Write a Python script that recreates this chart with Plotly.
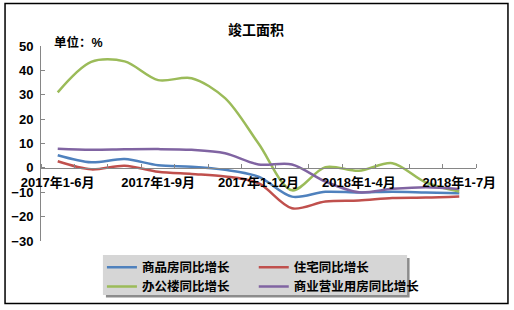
import plotly.graph_objects as go

categories = ["2017年1-6月", "2017年1-7月", "2017年1-8月", "2017年1-9月", "2017年1-10月",
              "2017年1-11月", "2017年1-12月", "2018年1-2月", "2018年1-3月", "2018年1-4月",
              "2018年1-5月", "2018年1-6月", "2018年1-7月"]
tick_labels = ["2017年1-6月", "2017年1-9月", "2017年1-12月", "2018年1-4月", "2018年1-7月"]

commodity = [5.2, 2.3, 3.6, 1.1, 0.5, -0.8, -3.6, -11.8, -9.8, -10.1, -9.8, -10.1, -10.4]
residential = [2.7, -0.6, 0.9, -1.6, -2.5, -3.5, -6.3, -16.6, -13.8, -13.4, -12.4, -12.2, -11.7]
office = [31.0, 43.5, 43.7, 36.0, 36.8, 28.6, 10.0, -9.2, 0.3, -1.2, 1.9, -6.0, -9.7]
business = [7.8, 7.4, 7.6, 7.7, 7.4, 6.0, 1.4, 1.4, -5.6, -10.0, -8.6, -7.9, -8.7]

series_names = ["商品房同比增长", "住宅同比增长", "办公楼同比增长", "商业营业用房同比增长"]
series_values = [commodity, residential, office, business]
colors = ["#4F81BD", "#C0504D", "#9BBB59", "#8064A2"]
legend_cols = ["legend", "legend2", "legend", "legend2"]

x_idx = list(range(len(categories)))
tick_idx = [categories.index(t) for t in tick_labels]

FONT = "Liberation Sans, Arial, Noto Sans CJK SC, sans-serif"
W, H = 514, 310
L, R, T, B = 41, 37.5, 46, 69
pw, ph = W - L - R, H - T - B

def px(x):
    return (x - L) / pw

def py(y):
    return (H - B - y) / ph

fig = go.Figure()
for name, vals, c, lg in zip(series_names, series_values, colors, legend_cols):
    fig.add_trace(go.Scatter(
        x=x_idx, y=vals, name=name, mode="lines", legend=lg,
        line=dict(color=c, width=2.5, shape="spline", smoothing=0.9),
        hoverinfo="skip"))

legend_font = dict(family=FONT, size=12.5, color="black", weight="bold")
ymin, ymax = -30, 50
fig.update_layout(
    width=W, height=H,
    margin=dict(l=L, r=R, t=T, b=B, autoexpand=False),
    paper_bgcolor="white", plot_bgcolor="white",
    font=dict(family=FONT, size=13, color="black"),
    showlegend=True,
    legend=dict(
        orientation="v", x=px(102), y=py(252.5), xanchor="left", yanchor="top",
        bgcolor="rgba(0,0,0,0)", borderwidth=0, font=legend_font,
        itemwidth=30, tracegroupgap=0),
    legend2=dict(
        orientation="v", x=px(254), y=py(252.5), xanchor="left", yanchor="top",
        bgcolor="rgba(0,0,0,0)", borderwidth=0, font=legend_font,
        itemwidth=30, tracegroupgap=0),
    xaxis=dict(
        range=[-0.5, len(categories) - 0.5],
        tickmode="array", tickvals=tick_idx, ticktext=tick_labels,
        ticks="", showgrid=False, zeroline=False,
        showline=True, linecolor="#868686", linewidth=1,
        anchor="free", position=(0 - ymin) / (ymax - ymin),
        tickfont=dict(family=FONT, size=13, color="black", weight="bold"),
        ticklabelstandoff=3,
        minor=dict(ticks="inside", tick0=-0.5, dtick=1, ticklen=4,
                   tickcolor="#868686", showgrid=False),
    ),
    yaxis=dict(
        range=[ymin, ymax], dtick=10, ticks="inside", ticklen=4,
        tickcolor="#868686", showgrid=False, zeroline=False,
        showline=True, linecolor="#868686", linewidth=1,
        tickfont=dict(family=FONT, size=13, color="black", weight="bold"),
        ticklabelstandoff=4,
    ),
)

# outer chart border
fig.add_shape(type="rect", xref="paper", yref="paper",
              x0=px(5), x1=px(508.5), y0=py(303.5), y1=py(3.5),
              line=dict(color="black", width=1.5), fillcolor="rgba(0,0,0,0)", layer="above")
# legend box with shadow
fig.add_shape(type="rect", xref="paper", yref="paper",
              x0=px(106), x1=px(410), y0=py(297.5), y1=py(258),
              line=dict(width=0), fillcolor="#8C8C8C", layer="above")
fig.add_shape(type="rect", xref="paper", yref="paper",
              x0=px(103), x1=px(407.5), y0=py(295), y1=py(255),
              line=dict(width=0), fillcolor="#D6D6D6", layer="above")

fig.add_annotation(text="竣工面积", xref="paper", yref="paper",
                   x=px(256), y=py(20), showarrow=False,
                   font=dict(family=FONT, size=14, color="black", weight="bold"))
fig.add_annotation(text="单位：%", xref="paper", yref="paper",
                   x=px(52), y=py(33), xanchor="left", showarrow=False,
                   font=dict(family=FONT, size=12.5, color="black", weight="bold"))

fig.write_html("out.html")
